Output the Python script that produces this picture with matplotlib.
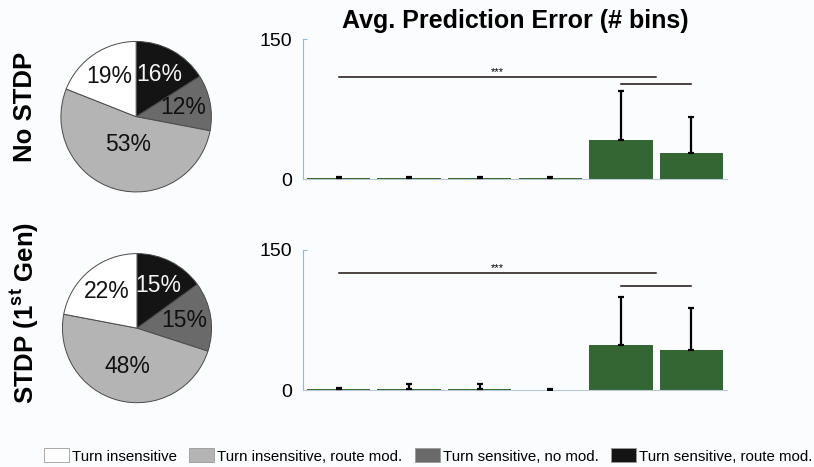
import numpy as np
import matplotlib
matplotlib.use("Agg")
import matplotlib.pyplot as plt
from matplotlib.patches import Patch

plt.rcParams['font.family'] = ['Liberation Sans', 'DejaVu Sans']
plt.rcParams['mathtext.fontset'] = 'custom'
plt.rcParams['mathtext.bf'] = 'Liberation Sans:bold'
plt.rcParams['mathtext.rm'] = 'Liberation Sans'

# ---- data ----
categories = ["Turn insensitive", "Turn insensitive, route mod.",
              "Turn sensitive, no mod.", "Turn sensitive, route mod."]
row_labels = ["No STDP", r"STDP (1$^{\mathbf{st}}$ Gen)"]

# pie shares (drawn clockwise from 12 o'clock: sensitive/route, sensitive/no mod, insensitive/route, insensitive)
pie_nostdp = [16, 12, 53, 19]
pie_stdp = [15, 15, 48, 22]

# bar groups 1..6
err_mean_nostdp = [0.9, 0.8, 0.9, 0.8, 42.0, 27.5]
err_sd_nostdp = [1.6, 1.0, 1.2, 1.2, 52.5, 39.0]
err_mean_stdp = [1.0, 1.7, 1.8, 0.6, 48.4, 42.8]
err_sd_stdp = [1.2, 4.7, 4.8, 0.8, 51.6, 45.5]

# significance brackets: (x_start, x_end, height)
sig_nostdp = [(1, 5.5, 109), (5, 6, 101.7)]
sig_stdp = [(1, 5.5, 125), (5, 6, 112)]

y_ticks = [0, 150]

# ---- styling ----
W, H = 814, 467
BG = '#fbfcfe'
pie_colors = {categories[0]: '#ffffff', categories[1]: '#b4b4b4',
              categories[2]: '#6a6a6a', categories[3]: '#141414'}
pie_order = [categories[3], categories[2], categories[1], categories[0]]
pct_text_colors = ['#f4f4f4', '#111111', '#111111', '#111111']
bar_color = '#346634'
spine_color = '#9db6c8'

fig = plt.figure(figsize=(W / 100, H / 100), dpi=100, facecolor=BG)


def px_axes(left, top, right, bottom):
    return fig.add_axes([left / W, 1 - bottom / H, (right - left) / W, (bottom - top) / H])


def draw_pie(ax, shares, big_r):
    wedges, texts, autotexts = ax.pie(
        shares, colors=[pie_colors[c] for c in pie_order], startangle=90,
        counterclock=False, autopct=lambda p: f'{int(round(p))}%', pctdistance=0.64,
        wedgeprops=dict(edgecolor='#4a4a4a', linewidth=0.7),
        textprops=dict(fontsize=16.5))
    # shift the label of the large slice toward the centre
    total = sum(shares)
    start = 90.0
    for i, (s, t) in enumerate(zip(shares, autotexts)):
        mid = np.deg2rad(start - 360.0 * s / total / 2)
        start -= 360.0 * s / total
        r = big_r if s == max(shares) else 0.64
        t.set_position((r * np.cos(mid), r * np.sin(mid)))
        t.set_color(pct_text_colors[i])
    ax.set_xlim(-1.01, 1.01)
    ax.set_ylim(-1.01, 1.01)
    ax.set_facecolor(BG)


def draw_bars(ax, means, sds, sigs):
    x = np.arange(1, len(means) + 1)
    ax.bar(x, means, width=0.9, color=bar_color, zorder=2)
    ax.errorbar(x, means, yerr=[np.zeros(len(sds)), sds], fmt='none',
                ecolor='black', elinewidth=1.6, capsize=2.5, capthick=1.6, zorder=3)
    for x0, x1, h in sigs:
        ax.plot([x0, x1], [h, h], color='#1a1010', lw=1.1, zorder=3)
    x0, x1, h = sigs[0]
    ax.text((x0 + x1) / 2, h + 0.8, '***', ha='center', va='bottom', fontsize=8)
    ax.set_xlim(0.5, 6.5)
    ax.set_ylim(0, 150)
    ax.set_yticks(y_ticks)
    ax.set_xticks([])
    ax.tick_params(axis='y', direction='in', length=3, color=spine_color,
                   labelsize=14, pad=8)
    for s in ['top', 'right']:
        ax.spines[s].set_visible(False)
    ax.spines['left'].set_color(spine_color)
    ax.spines['bottom'].set_color('#b8c8d4')
    ax.spines['left'].set_linewidth(0.8)
    ax.spines['bottom'].set_linewidth(0.8)
    ax.set_facecolor(BG)


# pies
ax_p1 = px_axes(60, 40.7, 212.3, 192.7)
draw_pie(ax_p1, pie_nostdp, 0.38)
ax_p2 = px_axes(61.7, 252.7, 212.3, 403.6)
draw_pie(ax_p2, pie_stdp, 0.53)

# bar panels
ax_b1 = px_axes(303.3, 39.3, 726.7, 179)
draw_bars(ax_b1, err_mean_nostdp, err_sd_nostdp, sig_nostdp)
ax_b1.set_title('Avg. Prediction Error (# bins)', fontsize=18, fontweight='bold', pad=8)

ax_b2 = px_axes(303.3, 250, 726.7, 390.3)
draw_bars(ax_b2, err_mean_stdp, err_sd_stdp, sig_stdp)

# row labels
fig.text(25 / W, 1 - 107 / H, row_labels[0], rotation=90, ha='center', va='center',
         fontsize=18.5, fontweight='bold')
fig.text(25 / W, 1 - 313 / H, row_labels[1], rotation=90, ha='center', va='center',
         fontsize=18.5, fontweight='bold')

# legend
handles = [Patch(facecolor=pie_colors[c], edgecolor='#9a9a9a', linewidth=0.6) for c in categories]
fig.legend(handles, categories, loc='center', bbox_to_anchor=(428 / W, 1 - 456 / H),
           ncol=4, frameon=False, handlelength=1.65, handleheight=1.05,
           handletextpad=0.2, columnspacing=0.85, borderaxespad=0, borderpad=0,
           prop={'size': 10.8})

fig.savefig('out.png', dpi=100, facecolor=BG)
